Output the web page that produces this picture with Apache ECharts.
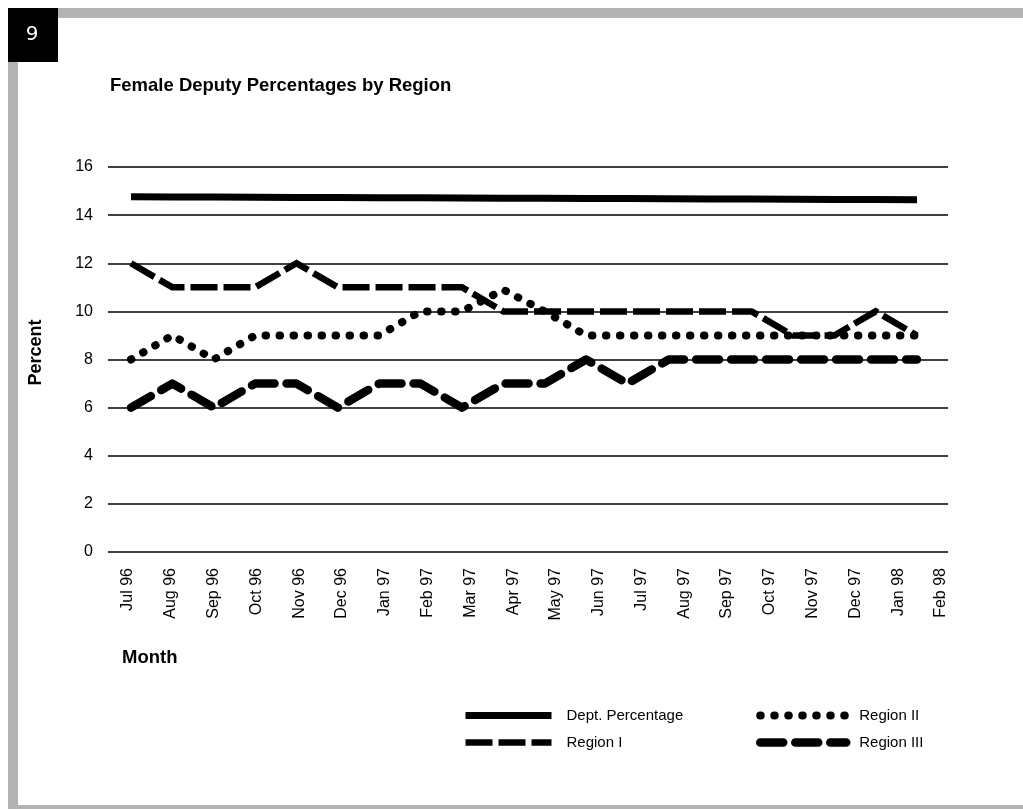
<!DOCTYPE html>
<html>
<head>
<meta charset="utf-8">
<script src="https://cdn.jsdelivr.net/npm/echarts@6/dist/echarts.min.js"></script>
<style>
html,body{margin:0;padding:0;background:#fff;}
#chart{width:1023px;height:809px;}
</style>
</head>
<body>
<div id="chart"></div>
<script>
var months = ['Jul 96','Aug 96','Sep 96','Oct 96','Nov 96','Dec 96','Jan 97','Feb 97','Mar 97','Apr 97','May 97','Jun 97','Jul 97','Aug 97','Sep 97','Oct 97','Nov 97','Dec 97','Jan 98','Feb 98'];
var deptPercentage = [14.76,14.75,14.75,14.74,14.73,14.73,14.72,14.72,14.71,14.70,14.70,14.69,14.69,14.68,14.67,14.67,14.66,14.65,14.65,14.64];
var regionI = [12,11,11,11,12,11,11,11,11,10,10,10,10,10,10,10,9,9,10,9];
var regionII = [8,9,8,9,9,9,9,10,10,10.9,10,9,9,9,9,9,9,9,9,9];
var regionIII = [6,7,6,7,7,6,7,7,6,7,7,8,7,8,8,8,8,8,8,8];
var yTicks = [0,2,4,6,8,10,12,14,16];

var FONT = "'Liberation Sans', Arial, sans-serif";
function pairs(arr){ return arr.map(function(v,i){ return [i, v]; }); }

var chart = echarts.init(document.getElementById('chart'), null, {renderer:'canvas'});
var legendCommon = {
  orient:'vertical', top:708, itemWidth:86, itemHeight:14, itemGap:12, padding:0, selectedMode:false,
  itemStyle:{color:'rgba(0,0,0,0)', borderWidth:0, opacity:0},
  lineStyle:{width:'inherit', type:'inherit', cap:'inherit', color:'#000'}
};
var option = {
  backgroundColor: '#ffffff',
  animation: false,
  title: {
    text: 'Female Deputy Percentages by Region',
    left: 110, top: 76, padding: 0,
    textStyle: {fontFamily: FONT, fontSize: 18.5, fontWeight: 'bold', color: '#000', lineHeight: 20}
  },
  graphic: [
    {type:'rect', shape:{x:8,y:8,width:1015,height:10}, style:{fill:'#b3b3b3'}, silent:true},
    {type:'rect', shape:{x:8,y:8,width:10,height:801}, style:{fill:'#b3b3b3'}, silent:true},
    {type:'rect', shape:{x:8,y:805,width:1015,height:4}, style:{fill:'#b3b3b3'}, silent:true},
    {type:'rect', shape:{x:8,y:8,width:50,height:54}, style:{fill:'#000'}, silent:true},
    {type:'text', x:32, y:35, style:{text:'9', fill:'#fff', font:"20px 'DejaVu Sans', sans-serif", textAlign:'center', textVerticalAlign:'middle'}, silent:true},
    {type:'text', x:122, y:658, style:{text:'Month', fill:'#000', font:"bold 18.5px " + FONT, textAlign:'left', textVerticalAlign:'middle'}, silent:true}
  ],
  grid: [
    {left:108, right:75, top:167, bottom:257},
    {left:128, right:82, top:167, bottom:257}
  ],
  xAxis: [
    {type:'value', gridIndex:0, min:-0.556, max:19.749, show:true,
     axisLine:{show:false}, axisTick:{show:false}, axisLabel:{show:false}, splitLine:{show:false}},
    {type:'category', gridIndex:1, data: months, boundaryGap:false,
     axisLine:{show:false}, axisTick:{show:false}, splitLine:{show:false},
     axisLabel:{interval:0, rotate:90, margin:16, fontFamily:FONT, fontSize:16, color:'#000'}}
  ],
  yAxis: [
    {type:'value', gridIndex:0, min:yTicks[0], max:yTicks[yTicks.length-1], interval:2,
     name:'Percent', nameLocation:'middle', nameRotate:90, nameGap:63,
     nameTextStyle:{fontFamily:FONT, fontSize:18, fontWeight:'bold', color:'#000', padding:[0,0,0,14]},
     axisLine:{show:false}, axisTick:{show:false},
     axisLabel:{margin:15, fontFamily:FONT, fontSize:16, color:'#000'},
     splitLine:{show:true, lineStyle:{color:'#000', width:1.7}}},
    {type:'value', gridIndex:1, min:0, max:16, show:false}
  ],
  legend: [
    Object.assign({}, legendCommon, {data:['Dept. Percentage','Region I'], left:462,
     textStyle:{fontFamily:FONT, fontSize:15, color:'#000', padding:[0,0,0,10]}}),
    Object.assign({}, legendCommon, {data:['Region II','Region III'], left:756,
     textStyle:{fontFamily:FONT, fontSize:15, color:'#000', padding:[0,0,0,8]}})
  ],
  series: [
    {name:'Dept. Percentage', type:'line', xAxisIndex:0, yAxisIndex:0, data:pairs(deptPercentage),
     symbol:'none', showSymbol:false, z:3, itemStyle:{color:'#000'},
     lineStyle:{color:'#000', width:7, type:'solid', cap:'butt'}},
    {name:'Region I', type:'line', xAxisIndex:0, yAxisIndex:0, data:pairs(regionI),
     symbol:'none', showSymbol:false, z:4, itemStyle:{color:'#000'},
     lineStyle:{color:'#000', width:6.5, type:[27,6], cap:'butt', join:'miter'}},
    {name:'Region II', type:'line', xAxisIndex:0, yAxisIndex:0, data:pairs(regionII),
     symbol:'none', showSymbol:false, z:3, itemStyle:{color:'#000'},
     lineStyle:{color:'#000', width:8, type:[0.5,13.5], cap:'round', join:'round'}},
    {name:'Region III', type:'line', xAxisIndex:0, yAxisIndex:0, data:pairs(regionIII),
     symbol:'none', showSymbol:false, z:3, itemStyle:{color:'#000'},
     lineStyle:{color:'#000', width:8.5, type:[23,12], cap:'round', join:'round'}}
  ]
};
chart.setOption(option);
</script>
</body>
</html>
